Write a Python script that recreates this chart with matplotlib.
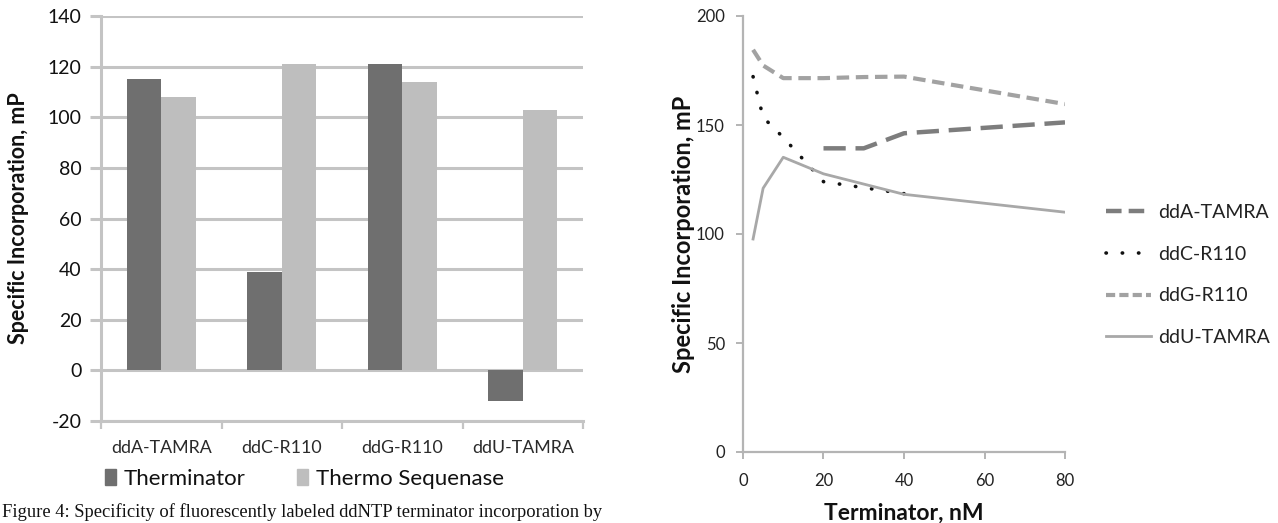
import matplotlib
matplotlib.use("Agg")
import matplotlib.pyplot as plt
import numpy as np
from matplotlib.lines import Line2D
from matplotlib.patches import Patch

plt.rcParams['font.family'] = ['Lato', 'DejaVu Sans']
plt.rcParams['axes.unicode_minus'] = False

# ---- Left panel data ----
categories = ["ddA-TAMRA", "ddC-R110", "ddG-R110", "ddU-TAMRA"]
therminator = [115, 39, 121, -12]
thermo_sequenase = [108, 121, 114, 103]
left_yticks = [-20, 0, 20, 40, 60, 80, 100, 120, 140]

# ---- Right panel data ----
conc_A = [20, 30, 40, 80]
ddA = [139.3, 139.3, 146.2, 151.2]
conc_C = [2.5, 5, 10, 20, 40]
ddC = [172.2, 153.5, 144.3, 124.0, 118.5]
conc_G = [2.5, 5, 10, 20, 30, 40, 80]
ddG = [184.5, 177.3, 171.5, 171.5, 172.0, 172.2, 159.6]
conc_U = [2.5, 5, 10, 20, 40, 80]
ddU = [97.7, 121.0, 135.2, 127.6, 118.2, 110.0]
right_xticks = [0, 20, 40, 60, 80]
right_yticks = [0, 50, 100, 150, 200]

W, H = 1278, 523
fig = plt.figure(figsize=(W / 100, H / 100), dpi=100)

def fx(px):
    return px / W

def fy(px):
    return 1 - px / H

grid_c = "#c4c4c4"
dark = "#6f6f6f"
light = "#bebebe"

# ---------------- Left bar chart ----------------
ax1 = fig.add_axes([fx(101), fy(421), fx(583) - fx(101), fy(16) - fy(421)])
x = np.arange(len(categories))
bw = 0.285
ax1.bar(x - bw / 2, therminator, bw, color=dark, zorder=3, label="Therminator")
ax1.bar(x + bw / 2, thermo_sequenase, bw, color=light, zorder=3, label="Thermo Sequenase")
ax1.set_xlim(-0.5, len(categories) - 0.5)
ax1.set_ylim(-20, 140)
ax1.set_yticks(left_yticks)
ax1.yaxis.grid(True, color=grid_c, linewidth=2.2, zorder=0)
ax1.set_axisbelow(True)
ax1.set_xticks(x)
ax1.set_xticklabels(categories, fontsize=12.8, color="#2a2a2a")
ax1.set_xticks(np.arange(-0.5, len(categories), 1.0), minor=True)
ax1.tick_params(axis='x', which='major', length=0, pad=14)
ax1.tick_params(axis='x', which='minor', length=6, width=1.6, color=grid_c, direction='out')
ax1.tick_params(axis='y', length=8, width=2.2, color=grid_c, labelsize=14,
                labelcolor="#111111", pad=6)
for s in ["top", "right"]:
    ax1.spines[s].set_visible(False)
ax1.spines["left"].set_color(grid_c)
ax1.spines["left"].set_linewidth(2.2)
ax1.spines["bottom"].set_color(grid_c)
ax1.spines["bottom"].set_linewidth(2.2)
ax1.set_ylabel("Specific Incorporation, mP", fontsize=15.5, fontweight="bold",
               color="#111111")
ax1.yaxis.set_label_coords((29 - 101) / 482, 0.5)
ax1.legend(handles=[Patch(color=dark, label="Therminator"),
                    Patch(color=light, label="Thermo Sequenase")],
           loc="upper left", bbox_to_anchor=(fx(105), fy(469)),
           bbox_transform=fig.transFigure, ncol=2, frameon=False,
           fontsize=16, handlelength=0.5, handleheight=0.7,
           handletextpad=0.35, columnspacing=2.3, borderaxespad=0,
           borderpad=0, labelcolor="#111111")

# ---------------- Right line chart ----------------
ax2 = fig.add_axes([fx(743), fy(452), fx(1065) - fx(743), fy(16) - fy(452)])
ax2.plot(conc_A, ddA, color="#7d7d7d", linewidth=3.2, dashes=(5, 2.2),
         label="ddA-TAMRA")
ax2.plot(conc_C, ddC, color="#111111", linewidth=2.6, dashes=(0.1, 4.4),
         dash_capstyle='round', label="ddC-R110")
ax2.plot(conc_G, ddG, color="#a2a2a2", linewidth=3.0, dashes=(3, 1.6),
         label="ddG-R110")
ax2.plot(conc_U, ddU, color="#a8a8a8", linewidth=2.0, label="ddU-TAMRA")
ax2.set_xlim(0, 80)
ax2.set_ylim(0, 200)
ax2.set_xticks(right_xticks)
ax2.set_yticks(right_yticks)
for s in ["top", "right"]:
    ax2.spines[s].set_visible(False)
for s in ["left", "bottom"]:
    ax2.spines[s].set_color("#b4b4b4")
    ax2.spines[s].set_linewidth(1.6)
ax2.tick_params(axis='both', length=5, width=1.4, color="#b4b4b4",
                labelsize=12, labelcolor="#222222", pad=8)
ax2.tick_params(axis='x', pad=10)
ax2.set_xlabel("Terminator, nM", fontsize=16.5, fontweight="bold", color="#111111",
               labelpad=10)
ax2.set_ylabel("Specific Incorporation, mP", fontsize=17, fontweight="bold",
               color="#111111")
ax2.yaxis.set_label_coords((695 - 743) / 322, 0.5)

handles = [
    Line2D([], [], color="#7d7d7d", linewidth=3.2, dashes=(3.5, 1.6)),
    Line2D([], [], color="#111111", linewidth=2.6, dashes=(0.1, 4.4),
           dash_capstyle='round'),
    Line2D([], [], color="#a2a2a2", linewidth=3.0, dashes=(2.2, 1.0)),
    Line2D([], [], color="#a8a8a8", linewidth=2.0),
]
fig.legend(handles, ["ddA-TAMRA", "ddC-R110", "ddG-R110", "ddU-TAMRA"],
           loc="upper left", bbox_to_anchor=(fx(1106), fy(204)),
           frameon=False, fontsize=14, handlelength=2.3, handletextpad=0.4,
           labelspacing=1.27, borderpad=0, borderaxespad=0, labelcolor="#222222")

# ---- Caption at bottom ----
fig.text(fx(2), fy(521), "Figure 4: Specificity of fluorescently labeled ddNTP terminator incorporation by",
         ha="left", va="bottom", fontsize=13.3, family="Liberation Serif", color="#111111")

fig.savefig("out.png", dpi=100)
